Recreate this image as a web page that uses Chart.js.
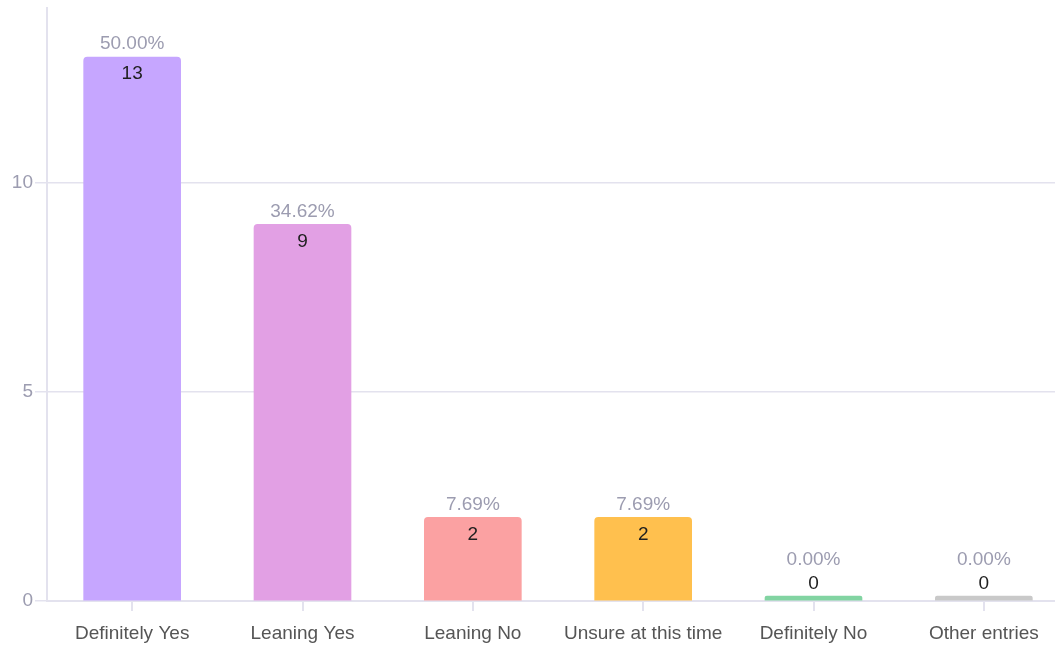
<!DOCTYPE html>
<html>
<head>
<meta charset="utf-8">
<script src="https://cdn.jsdelivr.net/npm/chart.js@4.4.0/dist/chart.umd.min.js"></script>
<style>
  html, body { margin: 0; padding: 0; background: #fff; overflow: hidden; width: 1055px; height: 645px; }
  #wrap { position: relative; width: 1069px; height: 645px; }
</style>
</head>
<body>
<div id="wrap"><canvas id="c"></canvas></div>
<script>
const categories = ["Definitely Yes", "Leaning Yes", "Leaning No", "Unsure at this time", "Definitely No", "Other entries"];
const counts = [13, 9, 2, 2, 0, 0];
const percentLabels = ["50.00%", "34.62%", "7.69%", "7.69%", "0.00%", "0.00%"];
const barColors = ["#C6A6FF", "#E2A0E4", "#FBA1A2", "#FFC04E", "#82D4A2", "#C9C9C9"];
const yTickValues = [0, 5, 10];

const FONT = "'Liberation Sans', Arial, sans-serif";

const labelPlugin = {
  id: 'barLabels',
  afterDatasetsDraw(chart) {
    const ctx = chart.ctx;
    const meta = chart.getDatasetMeta(0);
    ctx.save();
    ctx.textAlign = 'center';
    ctx.textBaseline = 'middle';
    ctx.font = "19px " + FONT;
    meta.data.forEach((bar, i) => {
      const v = counts[i];
      const top = bar.y;
      if (v > 0) {
        ctx.fillStyle = '#1f1f1f';
        ctx.fillText(String(v), bar.x, top + 17);
        ctx.fillStyle = '#9c9cb0';
        ctx.fillText(percentLabels[i], bar.x, top - 13);
      } else {
        ctx.fillStyle = '#1f1f1f';
        ctx.fillText(String(v), bar.x, top - 12);
        ctx.fillStyle = '#9c9cb0';
        ctx.fillText(percentLabels[i], bar.x, top - 36);
      }
    });
    ctx.restore();
  }
};

new Chart(document.getElementById('c'), {
  type: 'bar',
  data: {
    labels: categories,
    datasets: [{
      data: counts,
      backgroundColor: barColors,
      borderWidth: 0,
      borderRadius: 4,
      borderSkipped: 'bottom',
      minBarLength: 5,
      barThickness: 97
    }]
  },
  options: {
    responsive: true,
    maintainAspectRatio: false,
    animation: false,
    layout: { padding: { top: 8, left: 0, right: 0, bottom: 0 } },
    plugins: { legend: { display: false }, tooltip: { enabled: false } },
    scales: {
      x: {
        grid: { display: true, offset: false, drawOnChartArea: false, drawTicks: true, tickLength: 10, color: '#e3e2ee', lineWidth: 2 },
        border: { display: true, color: '#e3e2ee', width: 2 },
        ticks: { color: '#555555', font: { family: FONT, size: 19 }, padding: 11, maxRotation: 0, autoSkip: false },
        afterFit(s) { s.height = 44; s.paddingLeft = 0; s.paddingRight = 0; }
      },
      y: {
        min: 0,
        max: 14.17,
        afterBuildTicks(axis) { axis.ticks = yTickValues.map(v => ({ value: v })); },
        grid: { color: '#e3e2ee', lineWidth: 1.5, drawTicks: true, tickLength: 12 },
        border: { display: true, color: '#e3e2ee', width: 2 },
        ticks: { color: '#9c9cb0', font: { family: FONT, size: 19 }, padding: 2 },
        afterFit(s) { s.width = 47; s.paddingTop = 0; s.paddingBottom = 0; }
      }
    }
  },
  plugins: [labelPlugin]
});
</script>
</body>
</html>
